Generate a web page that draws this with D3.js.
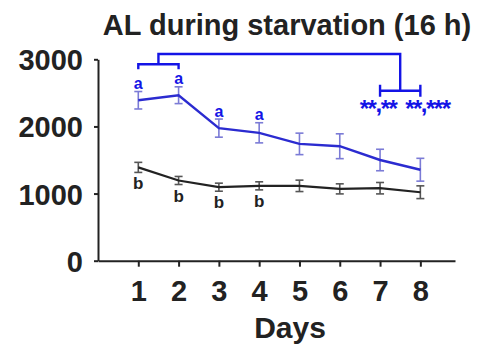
<!DOCTYPE html>
<html>
<head>
<meta charset="utf-8">
<script src="https://cdn.jsdelivr.net/npm/d3@7"></script>
<style>
  body { margin: 0; background: #fff; }
  text { font-family: "Liberation Sans", Arial, sans-serif; font-weight: bold; }
</style>
</head>
<body>
<div id="chart"></div>
<script>
const days = [1, 2, 3, 4, 5, 6, 7, 8];
const alMean = [2390, 2465, 1975, 1905, 1740, 1705, 1500, 1355];
const alErr  = [130, 125, 135, 150, 160, 185, 160, 170];
const ctrlMean = [1390, 1195, 1095, 1115, 1115, 1070, 1080, 1020];
const ctrlErr  = [75, 60, 60, 60, 85, 75, 85, 95];
const yTicks = [0, 1000, 2000, 3000];
const alLetters = ["a", "a", "a", "a"];
const ctrlLetters = ["b", "b", "b", "b"];
const starLabels = ["**,**", "**,***"];

const W = 477, H = 347;
const blue = "#2b2bd0", blueErr = "#7b7bd6", anno = "#1414e6";
const dark = "#222";

const svg = d3.select("#chart").append("svg")
    .attr("width", W).attr("height", H);

const x = d3.scaleLinear().domain([0, 8.86]).range([98, 455]);
const y = d3.scaleLinear().domain([0, 3000]).range([260.7, 59.3]);

// Titel
svg.append("text")
    .attr("x", 287).attr("y", 35)
    .attr("text-anchor", "middle")
    .attr("font-size", 29)
    .attr("fill", dark)
    .text("AL during starvation (16 h)");

// Y-Achse
const yAxis = svg.append("g")
    .attr("transform", `translate(${x(0)},0)`)
    .call(d3.axisLeft(y).tickValues(yTicks).tickFormat(d3.format("d"))
        .tickSize(4).tickPadding(11).tickSizeOuter(0));
yAxis.select(".domain").attr("stroke", dark).attr("stroke-width", 2);
yAxis.selectAll(".tick line").attr("stroke", dark).attr("stroke-width", 2);
yAxis.selectAll(".tick text")
    .attr("font-size", 29).attr("font-family", "Liberation Sans, Arial, sans-serif")
    .attr("font-weight", "bold").attr("fill", dark).attr("dy", "0.36em");

// X-Achse
const xAxis = svg.append("g")
    .attr("transform", `translate(0,${y(0)})`)
    .call(d3.axisBottom(x).tickValues(days).tickSize(6).tickPadding(14).tickSizeOuter(0));
xAxis.select(".domain").attr("stroke", dark).attr("stroke-width", 2);
xAxis.selectAll(".tick line").attr("stroke", dark).attr("stroke-width", 2);
xAxis.selectAll(".tick text")
    .attr("font-size", 29).attr("font-family", "Liberation Sans, Arial, sans-serif")
    .attr("font-weight", "bold").attr("fill", dark);

svg.append("text")
    .attr("x", 290).attr("y", 338)
    .attr("text-anchor", "middle")
    .attr("font-size", 30)
    .attr("fill", dark)
    .text("Days");

// Fehlerbalken + Linie zeichnen
function drawSeries(mean, err, lineColor, errColor, lw) {
    const g = svg.append("g");
    days.forEach((d, i) => {
        const cx = x(d), top = y(mean[i] + err[i]), bot = y(mean[i] - err[i]);
        g.append("line").attr("x1", cx).attr("x2", cx).attr("y1", top).attr("y2", bot)
            .attr("stroke", errColor).attr("stroke-width", 1.6);
        [top, bot].forEach(yy => {
            g.append("line").attr("x1", cx - 4).attr("x2", cx + 4).attr("y1", yy).attr("y2", yy)
                .attr("stroke", errColor).attr("stroke-width", 1.6);
        });
    });
    const line = d3.line().x((d, i) => x(days[i])).y(d => y(d));
    g.append("path").datum(mean)
        .attr("d", line)
        .attr("fill", "none")
        .attr("stroke", lineColor)
        .attr("stroke-width", lw);
}
drawSeries(ctrlMean, ctrlErr, dark, "#555", 2.2);
drawSeries(alMean, alErr, blue, blueErr, 2.4);

// Buchstaben a / b
alLetters.forEach((t, i) => {
    svg.append("text")
        .attr("x", x(days[i])).attr("y", y(alMean[i] + alErr[i]) - 2.5)
        .attr("text-anchor", "middle").attr("font-size", 16).attr("fill", anno)
        .text(t);
});
ctrlLetters.forEach((t, i) => {
    svg.append("text")
        .attr("x", x(days[i])).attr("y", y(ctrlMean[i] - ctrlErr[i]) + 17)
        .attr("text-anchor", "middle").attr("font-size", 17).attr("fill", dark)
        .text(t);
});

// Signifikanz-Klammern
const br = svg.append("g").attr("stroke", anno).attr("stroke-width", 2.4).attr("fill", "none");
const yTop = 54, yL = 64.3, yR = 90.7;
const xL = (x(1) + x(2)) / 2, xR = (x(7) + x(8)) / 2;
br.append("path").attr("d", `M${xL},${yL}V${yTop}H${xR}V${yR}`);
br.append("path").attr("d", `M${x(1)},${yL + 5}V${yL}H${x(2)}V${yL + 5}`);
br.append("path").attr("d", `M${x(7)},${yR - 6}V${yR + 6}M${x(7)},${yR}H${x(8)}M${x(8)},${yR - 6}V${yR + 6}`);

// Sterne: Kommas etwas angehoben wie im Original
const starX = [x(7) - 2, x(8) + 7];
starLabels.forEach((s, k) => {
    const t = svg.append("text")
        .attr("x", starX[k]).attr("y", 112)
        .attr("text-anchor", "middle").attr("font-size", 24)
        .attr("letter-spacing", -1.5).attr("fill", anno);
    s.split(/(,)/).forEach(part => {
        if (part === ",") t.append("tspan").attr("dy", -5).text(",");
        else if (part) t.append("tspan").attr("dy", t.selectAll("tspan").size() ? 5 : 0).text(part);
    });
});
</script>
</body>
</html>
